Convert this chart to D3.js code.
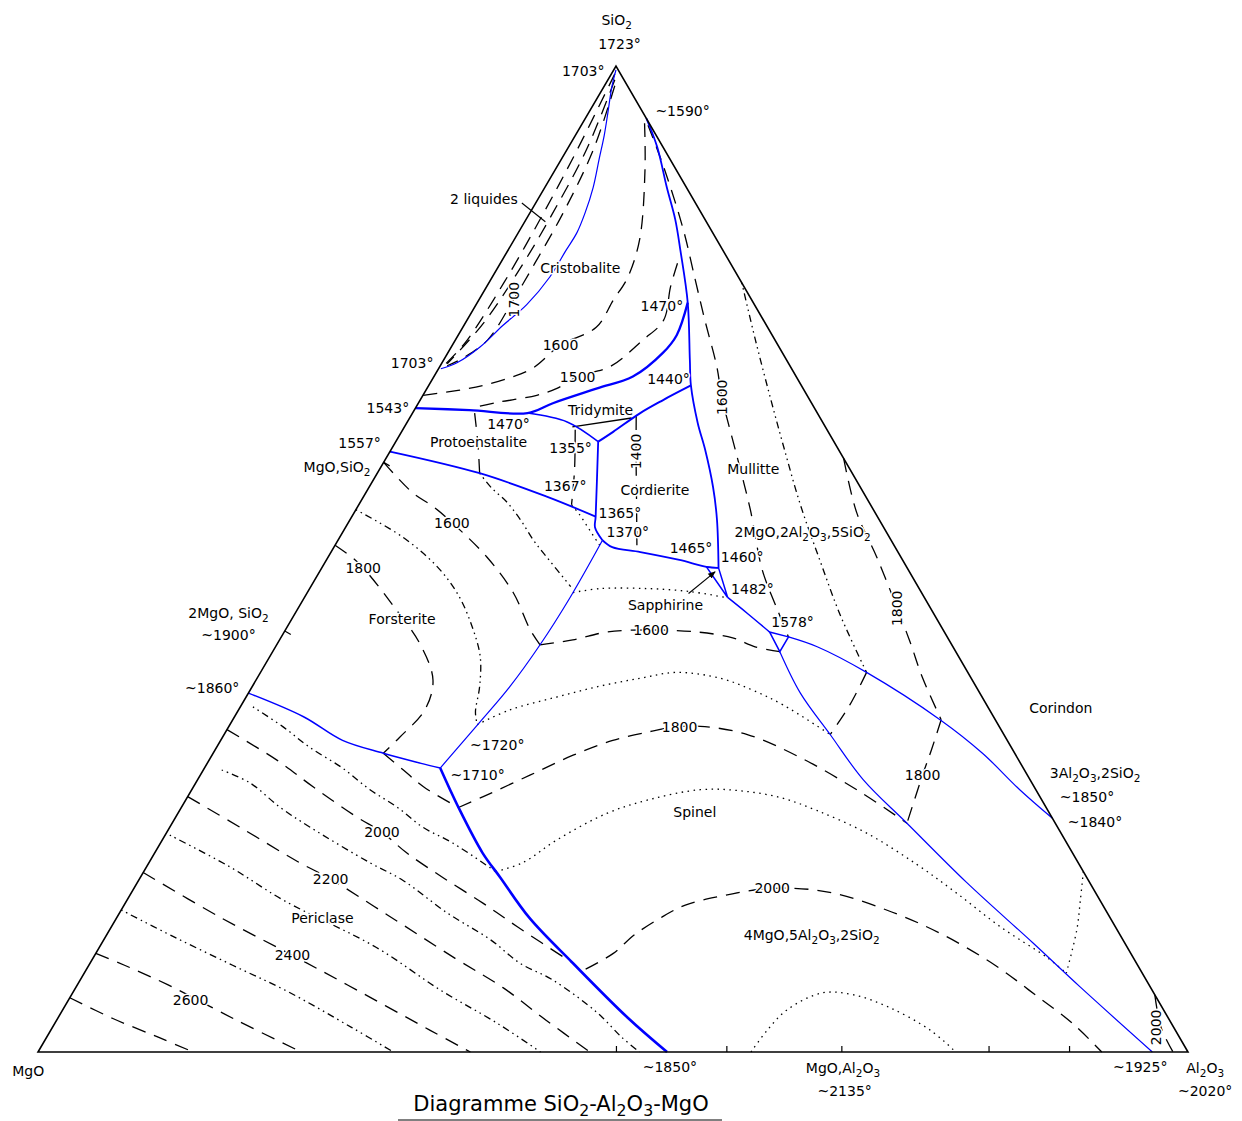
<!DOCTYPE html>
<html>
 <head>
  <meta charset="UTF-8">
  <title>Diagramme SiO2-Al2O3-MgO</title>
  <style>
    body { margin: 0; background: #fff; }
    text { font-family: "DejaVu Sans", sans-serif; font-size: 14px; fill: #000; }
  </style>
 </head>
 <body>
<div id="viz-wrapper"></div>
 <script src="https://d3js.org/d3.v7.min.js" charset="utf-8"></script>
 <script type="text/javascript">
    // every composition below is [SiO2 %, Al2O3 %] (MgO is the rest)

    // corners of the triangle
    var corners = [[0, 0], [0, 100], [100, 0]];

    // blue liquidus boundaries
    var cristobaliteLiquids = [[99.6,0.2],[97.9,0.7],[95.2,1.7],[93,2.5],[90.5,3.3],[87.7,4.2],[85.1,4.8],[83.1,5.1],[81.3,5.05],[78.6,5.0],[75.8,4.4],[73.7,3.4],[71.5,2.5],[69.9,1.3],[69.3,0.2]];
    var mulliteWest = [[94.7,5.3],[91.8,7.7],[87.7,10.6],[84.4,13.0],[81.3,15.0],[76.0,18.3],[70.2,21.4],[67.6,22.8],[63.8,25.3],[61.1,27.3],[57.3,29.9],[54.0,31.9],[49.1,34.5]];
    var tridymiteTop = [[65.3,0],[65.1,4.8],[64.8,10.0],[65.8,11.7],[67.3,14.8],[68.5,17.3],[70.9,18.7],[72.7,19.0],[76.0,18.3]];
    var tridymiteEast = [[67.6,22.8],[66.1,21.1],[64.8,19.8],[62.9,18.4],[61.9,17.6]];
    var tridymiteSouth = [[64.8,10.0],[63.9,13.9],[61.9,17.6]];
    var cordieriteWest = [[61.9,17.6],[54.3,21.2],[53.2,21.7],[51.9,23.0]];
    var cordieriteSouth = [[51.9,23.0],[51.2,24.2],[50.7,26.9],[49.9,30.7],[49.2,33.4],[49.1,34.5]];
    var protoenForsterite = [[60.9,0],[58.7,8.9],[56.3,16.0],[54.3,21.2]];
    var forsteriteSpinel = [[51.9,23.0],[46.1,23.1],[41.3,22.9],[37.0,22.4],[33.4,21.6],[28.8,20.5]];
    var forsteritePericlase = [[36.4,0],[34.0,6.0],[31.6,10.6],[30.3,14.8],[29.3,18.5],[28.8,20.5]];
    var spinelPericlase = [[28.8,20.5],[24.8,24.1],[20.2,28.5],[17.7,31.3],[13.6,35.9],[9.0,42.0],[3.5,49.5],[0,54.7]];
    var sapphirineField = [[49.2,33.4],[49.1,34.5],[46.1,36.8]];
    var sapphirineLink = [[46.1,36.8],[44.5,39.3],[42.6,42.2]];
    var point1578 = [[42.6,42.2],[42.1,44.1],[40.6,44.1]];
    var mulliteCorundum = [[42.1,44.1],[41.1,47.1],[38.5,52.7],[33.7,61.5],[30.3,66.9],[26.6,72.0],[23.7,76.3]];
    var spinelCorundum = [[40.6,44.1],[36.4,48.0],[32.2,52.7],[27.6,57.9],[23.2,63.9],[17.2,72.1],[11.1,80.9],[6.6,87.3],[0,96.9]];

    // black isotherms and other black lines
    var twoLiquids1 = [[99.2,0.3],[91.5,0.9],[85,1.2],[78,1.3],[72,1.0],[69.6,0.3]];
    var twoLiquids2 = [[98.6,0.6],[91.5,1.7],[85,2.0],[80,2.0],[74,1.6],[69.8,0.5]];
    var iso1700Cristobalite = [[98,0.9],[91.5,2.3],[85,2.9],[80,3.0],[76.3,3.0],[72.2,2.8],[70.4,1.6],[69.6,0.6]];
    var iso1600Cristobalite = [[94.2,5.4],[89.5,7.8],[82.4,10.9],[78.5,11.8],[76.3,11.7],[73.5,11.6],[71.7,9.4],[69.4,8.2],[68.4,6.7],[67.6,4.7],[67.1,2.8],[66.6,0]];
    var iso1500Cristobalite = [[80.0,15.4],[77.6,16.0],[74.2,17.1],[72.2,16.3],[69.5,14.8],[68.5,12.5],[67.3,11.3],[66.6,9.9],[65.9,6.9],[65.5,5.5]];
    var tridymiteLine = [[63.4,14.6],[64.3,19.3]];
    var protoenLine = [[64.8,5.4],[61.6,7.3],[58.7,8.9]];
    var line1367 = [[63.1,15.0],[59.0,17.0],[55.5,18.5]];
    var line1367Dots = [[55.5,18.5],[54.5,19.7],[52.9,21.4],[51.4,23.0]];
    var iso1400Cordierite = [[64.5,19.6],[60.5,21.6],[56.0,23.9],[50.9,26.5]];
    var iso1600Mullite = [[94.0,5.8],[89.5,9.5],[83.4,14.2],[78.3,17.8],[74.2,20.7],[69.5,24.1],[66.4,26.1],[60.3,30.5],[55.0,34.3],[48.9,38.4],[44.8,41.8],[42.1,44.1]];
    var iso1700Mullite = [[78,22],[72.2,26.1],[66.4,30.3],[61.1,34.2],[55.5,38.4],[49.9,42.9],[44.3,47.5],[38.5,52.7]];
    var iso1700Corundum = [[38.5,52.7],[35.2,52.9],[32.2,52.7]];
    var iso1800Mullite = [[60.2,39.8],[54.7,43.7],[50.2,47.7],[45.0,52.1],[41.5,55.0],[38.0,57.8],[33.7,61.6]];
    var iso1800Corundum = [[33.7,61.6],[30.6,62.3],[28.1,62.8],[23.2,63.9]];
    var iso1900Corundum = [[18.3,81.7],[15.4,82.9],[12.4,84.1],[8.0,85.4]];
    var iso2000Corundum = [[5.8,94.2],[2.5,96.4],[0,98.7]];
    var iso1500Forsterite = [[58.7,8.9],[57.2,10.7],[55.8,12.7],[54.0,14.8],[51.9,17.0],[50.2,19.0],[47.2,22.6]];
    var iso1600Forsterite = [[59.8,0],[56.7,4.1],[55.3,6.6],[53.7,9.0],[50.2,13.8],[46.6,17.9],[42.8,21.3],[41.3,22.9]];
    var iso1700Forsterite = [[55,0],[52.2,5.5],[49.2,10.0],[46.3,13.3],[43.1,16.1],[40.1,18.3],[37.0,19.8],[34.5,20.7],[33.2,21.5]];
    var iso1800Forsterite = [[51.4,0],[50.1,2.2],[49.1,3.6],[45.3,8.1],[41.3,12.5],[37.7,15.4],[34.7,16.2],[31.9,15.4],[30.3,14.8]];
    var sapphirineDots = [[46.6,23.1],[47.0,25.3],[47.0,29.4],[46.7,33.2],[46.1,36.6]];
    var iso1600Spinel = [[41.3,22.9],[41.8,25.5],[42.6,28.1],[42.8,31.7],[42.6,35.9],[42.0,39.3],[41.1,41.7],[40.6,44.1]];
    var iso1700Spinel = [[33.2,21.5],[34.7,23.6],[36.0,27.0],[37.1,30.2],[37.9,33.3],[38.5,36.2],[37.9,40.3],[36.7,43.7],[35.2,47.1],[32.2,52.7]];
    var iso1800Spinel = [[24.8,24.1],[25.9,25.7],[28.1,28.7],[30.1,31.4],[31.6,34.1],[32.5,36.9],[33.0,39.1],[33.0,41.4],[32.2,45.5],[29.9,51.2],[26.4,58.2],[23.2,63.9]];
    var iso1900Spinel = [[18.3,30.6],[19.2,32.5],[21.5,34.3],[24.2,37.3],[25.6,40.3],[26.6,44.2],[26.5,47.7],[25.8,51.6],[24.5,55.4],[22.2,60.9],[19.0,66.9],[16.1,71.8],[12.7,77.3],[9.6,82.9],[8.0,85.4]];
    var iso2000Spinel = [[8.4,43.4],[10.0,45.0],[11.9,45.9],[13.6,47.3],[14.9,48.8],[15.8,51.4],[16.6,55.5],[16.2,60.7],[14.2,67.1],[11.9,72.7],[8.8,78.8],[5.8,83.8],[2.9,88.5],[0,92.5]];
    var iso2100Spinel = [[0,62.0],[2.2,62.3],[4.3,63.0],[6.0,65.2],[5.8,68.0],[4.5,71.8],[2.2,76.5],[0,79.8]];
    var iso1800Periclase = [[30.3,14.8],[28.6,17.4],[26.9,20.0],[24.8,24.1]];
    var iso1900Periclase = [[35.0,1.1],[33.0,4.7],[30.9,8.1],[28.8,12.0],[26.6,15.5],[24.8,18.8],[22.8,22.0],[21.2,25.4],[18.3,30.6]];
    var iso2000Periclase = [[32.7,0],[29.6,5.9],[26.9,10.4],[23.8,15.8],[22.3,18.7],[20.2,21.9],[17.7,26.3],[15.1,31.1],[12.7,35.3],[9.0,42.0]];
    var iso2100Periclase = [[28.6,1.6],[27.3,4.7],[24.8,8.6],[22.8,12.2],[19.2,19.2],[17.4,23.0],[14.1,28.5],[11.4,33.6],[9.0,37.4],[7.3,41.1],[4.0,46.6],[1.5,50.0],[0,52.3]];
    var iso2200Periclase = [[25.9,0],[22.8,6.1],[19.3,12.9],[17.6,16.5],[13.9,23.4],[9.5,31.5],[6.5,37.2],[3.2,42.6],[0,48.0]];
    var iso2300Periclase = [[22,0.4],[18.8,7.2],[15.4,13.6],[10.6,24.1],[6.3,31.8],[2.9,38.5],[0,43.7]];
    var iso2400Periclase = [[18.2,0],[13.7,8.9],[9.8,17.2],[6.8,23.5],[2.2,33.0],[0,37.6]];
    var iso2500Periclase = [[14.4,0],[11.7,5.9],[8.8,12.5],[6.1,18.7],[2.5,26.0],[0,30.9]];
    var iso2600Periclase = [[10,0],[8.8,3.1],[6.8,7.9],[3.2,15.7],[0,22.9]];
    var iso2700Periclase = [[5.5,0],[3.4,4.8],[1.5,9.7],[0,13.5]];

    // pointers from a label to a point
    var liquidsPointer = [[86.1,-1.2],[84.2,1.8]];
    var sapphirinePointer = [[46.5,33.2],[48.7,34.4]];

    // small ticks: Al2O3 % along the base, SiO2 % along the MgO-SiO2 side
    var baseTicks = [50.3, 59.9, 69.9, 82.7, 89.7];
    var sideTicks = [59.8, 42.7];

    // labels: text, SiO2 %, Al2O3 %, rotation
    var labels = [
      ["SiO_2", 104.7, -2.3, 0], ["1723°", 102.2, -0.8, 0], ["1703°", 99.5, -2.6, 0],
      ["~1590°", 95.4, 8.1, 0], ["2 liquides", 86.5, -4.7, 0], ["Cristobalite", 79.5, 7.2, 0],
      ["1700", 76.3, 3.0, -90], ["1470°", 75.7, 16.2, 0], ["1600", 71.7, 9.4, 0],
      ["1703°", 69.9, -2.6, 0], ["1500", 68.5, 12.5, 0], ["1440°", 68.3, 20.5, 0],
      ["1600", 66.4, 26.1, -90], ["1543°", 65.3, -2.4, 0], ["Tridymite", 65.1, 16.2, 0],
      ["1470°", 63.7, 8.9, 0], ["1557°", 61.8, -3.1, 0], ["Protoenstalite", 61.9, 7.2, 0],
      ["1355°", 61.3, 15.5, 0], ["1400", 60.9, 21.4, -90], ["MgO,SiO_2", 59.3, -3.8, 0],
      ["Mullitte", 59.1, 32.5, 0], ["1367°", 57.4, 17.0, 0], ["Cordierite", 57.0, 25.0, 0],
      ["1365°", 54.7, 23.1, 0], ["1370°", 52.7, 24.8, 0], ["1600", 53.7, 9.0, 0],
      ["2MgO,2Al_2O_3,5SiO_2", 52.7, 40.0, 0], ["1465°", 51.1, 31.1, 0], ["1460°", 50.2, 36.0, 0],
      ["1800", 49.1, 3.6, 0], ["1482°", 47.0, 38.5, 0], ["Sapphirine", 45.3, 31.8, 0],
      ["1800", 45.0, 52.1, -90], ["Forsterite", 43.9, 9.6, 0], ["2MgO, SiO_2", 44.5, -5.8, 0],
      ["~1900°", 42.3, -4.7, 0], ["1578°", 43.6, 43.7, 0], ["1600", 42.8, 31.8, 0],
      ["~1860°", 36.9, -3.4, 0], ["Corindon", 34.9, 71.4, 0], ["1800", 33.0, 39.2, 0],
      ["~1720°", 31.1, 24.3, 0], ["~1710°", 28.1, 24.1, 0], ["1800", 28.1, 62.8, 0],
      ["3Al_2O_3,2SiO_2", 28.3, 77.7, 0], ["~1850°", 25.9, 78.2, 0], ["~1840°", 23.3, 80.2, 0],
      ["Spinel", 24.3, 44.9, 0], ["2000", 22.3, 18.7, 0], ["2200", 17.6, 16.6, 0],
      ["2000", 16.6, 55.5, 0], ["Periclase", 13.6, 17.9, 0], ["4MgO,5Al_2O_3,2SiO_2", 11.9, 61.3, 0],
      ["2400", 9.8, 17.2, 0], ["2600", 5.3, 10.6, 0], ["2000", 2.5, 96.0, -90],
      ["MgO", -1.9, 0.1, 0], ["~1850°", -1.5, 55.7, 0], ["MgO,Al_2O_3", -1.6, 70.8, 0],
      ["~2135°", -3.9, 72.1, 0], ["~1925°", -1.5, 96.6, 0], ["Al_2O_3", -1.6, 102.3, 0],
      ["~2020°", -4.0, 103.5, 0]
    ];
    var title = "Diagramme SiO_2-Al_2O_3-MgO";

    // size of the svg and of the triangle
    var width = 1242, height = 1121;
    var apexShift = 0.5026;

    var x = d3.scaleLinear().domain([0, 100]).range([38, 1188]);
    var y = d3.scaleLinear().domain([0, 100]).range([1052, 66]);
    function pt(c) { return [x(c[1] + apexShift * c[0]), y(c[0])]; }

    var viz = d3.select("#viz-wrapper")
                .append("svg")
                .attr("id", "viz")
                .attr("width", width)
                .attr("height", height);
    viz.append("rect").attr("width", width).attr("height", height).attr("fill", "#fff");

    var curve = d3.line().x(function(d) { return pt(d)[0]; })
                         .y(function(d) { return pt(d)[1]; })
                         .curve(d3.curveCatmullRom.alpha(0.5));
    var straight = d3.line().x(function(d) { return pt(d)[0]; })
                            .y(function(d) { return pt(d)[1]; });

    var dashes = { dash: "14,9", dashdot: "1.5,4,1.5,4,7,4", dot: "1.5,4.5", solid: null };

    //black lines
    var blackLines = [
      [twoLiquids1, "dash"], [twoLiquids2, "dash"], [iso1700Cristobalite, "dash"],
      [iso1600Cristobalite, "dash"], [iso1500Cristobalite, "dash"], [tridymiteLine, "solid"],
      [protoenLine, "dash"], [line1367, "dash"], [line1367Dots, "dot"], [iso1400Cordierite, "dash"],
      [iso1600Mullite, "dash"], [iso1700Mullite, "dashdot"], [iso1700Corundum, "dash"],
      [iso1800Mullite, "dash"], [iso1800Corundum, "dash"], [iso1900Corundum, "dot"],
      [iso2000Corundum, "dash"], [iso1500Forsterite, "dashdot"], [iso1600Forsterite, "dash"],
      [iso1700Forsterite, "dashdot"], [iso1800Forsterite, "dash"], [sapphirineDots, "dot"],
      [iso1600Spinel, "dash"], [iso1700Spinel, "dot"], [iso1800Spinel, "dash"],
      [iso1900Spinel, "dot"], [iso2000Spinel, "dash"], [iso2100Spinel, "dot"],
      [iso1800Periclase, "dash"], [iso1900Periclase, "dashdot"], [iso2000Periclase, "dash"],
      [iso2100Periclase, "dashdot"], [iso2200Periclase, "dash"], [iso2300Periclase, "dashdot"],
      [iso2400Periclase, "dash"], [iso2500Periclase, "dashdot"], [iso2600Periclase, "dash"],
      [iso2700Periclase, "dash"]
    ];
    viz.append("g").selectAll("path")
       .data(blackLines)
       .enter()
       .append("path")
       .attr("d", function(d) { return curve(d[0]); })
       .attr("fill", "none")
       .attr("stroke", "#000")
       .attr("stroke-width", 1.3)
       .attr("stroke-dasharray", function(d) { return dashes[d[1]]; });

    //blue boundaries, with their line widths
    var blueLines = [
      [cristobaliteLiquids, 1.2], [mulliteWest, 1.8], [tridymiteTop, 2.3], [tridymiteEast, 2],
      [tridymiteSouth, 1.5], [cordieriteWest, 1.8], [cordieriteSouth, 1.8], [protoenForsterite, 1.8],
      [forsteriteSpinel, 1.2], [forsteritePericlase, 1.5], [spinelPericlase, 2.6],
      [sapphirineLink, 1.5], [mulliteCorundum, 1.2], [spinelCorundum, 1.2]
    ];
    viz.append("g").selectAll("path")
       .data(blueLines)
       .enter()
       .append("path")
       .attr("d", function(d) { return curve(d[0]); })
       .attr("fill", "none")
       .attr("stroke", "#0000ff")
       .attr("stroke-width", function(d) { return d[1]; });

    viz.append("g").selectAll("path")
       .data([sapphirineField, point1578])
       .enter()
       .append("path")
       .attr("d", function(d) { return straight(d) + "Z"; })
       .attr("fill", "none")
       .attr("stroke", "#0000ff")
       .attr("stroke-width", 1.5);

    //triangle
    viz.append("path")
       .attr("d", straight(corners) + "Z")
       .attr("fill", "none")
       .attr("stroke", "#000")
       .attr("stroke-width", 1.6);

    //ticks
    viz.append("g").selectAll("line")
       .data(baseTicks)
       .enter()
       .append("line")
       .attr("x1", function(d) { return pt([0, d])[0]; })
       .attr("x2", function(d) { return pt([0, d])[0]; })
       .attr("y1", y(0))
       .attr("y2", y(0) - 6)
       .attr("stroke", "#000")
       .attr("stroke-width", 1.2);
    viz.append("g").selectAll("line")
       .data(sideTicks)
       .enter()
       .append("line")
       .attr("x1", function(d) { return pt([d, 0])[0]; })
       .attr("y1", function(d) { return pt([d, 0])[1]; })
       .attr("x2", function(d) { return pt([d, 0])[0] + 6; })
       .attr("y2", function(d) { return pt([d, 0])[1] + 3.5; })
       .attr("stroke", "#000")
       .attr("stroke-width", 1.2);

    //pointers
    var defs = viz.append("defs");
    defs.append("marker")
        .attr("id", "arrow")
        .attr("viewBox", "0 0 10 10")
        .attr("refX", 9).attr("refY", 5)
        .attr("markerWidth", 7).attr("markerHeight", 7)
        .attr("orient", "auto")
        .append("path")
        .attr("d", "M0,1L10,5L0,9Z")
        .attr("fill", "#000");
    viz.append("path")
       .attr("d", straight(liquidsPointer))
       .attr("stroke", "#000").attr("stroke-width", 1.1);
    viz.append("path")
       .attr("d", straight(sapphirinePointer))
       .attr("stroke", "#000").attr("stroke-width", 1.1)
       .attr("marker-end", "url(#arrow)");

    //text with subscripts written as _n
    function writeText(sel, str, shift) {
      var parts = str.split(/_(\d)/);
      parts.forEach(function(p, i) {
        if (p === "") return;
        var t = sel.append("tspan").text(p);
        if (i % 2 === 1) t.attr("font-size", "0.75em").attr("dy", shift);
        else if (i > 0) t.attr("dy", -shift);
      });
    }

    var labelG = viz.append("g");
    labels.forEach(function(l) {
      var p = pt([l[1], l[2]]);
      var t = labelG.append("text")
                    .attr("transform", "translate(" + p[0] + "," + p[1] + ") rotate(" + l[3] + ")")
                    .attr("text-anchor", "middle")
                    .attr("dy", "0.36em")
                    .attr("stroke", "#fff")
                    .attr("stroke-width", 3)
                    .attr("paint-order", "stroke")
                    .attr("stroke-linejoin", "round");
      writeText(t, l[0], 4);
    });

    //title, underlined
    var titleText = viz.append("text")
                       .attr("x", 561)
                       .attr("y", 1111)
                       .attr("text-anchor", "middle")
                       .style("font-size", "21px");
    writeText(titleText, title, 5);
    viz.append("line")
       .attr("x1", 398).attr("x2", 722)
       .attr("y1", 1120).attr("y2", 1120)
       .attr("stroke", "#000").attr("stroke-width", 1);
 </script>
 </body>
</html>
